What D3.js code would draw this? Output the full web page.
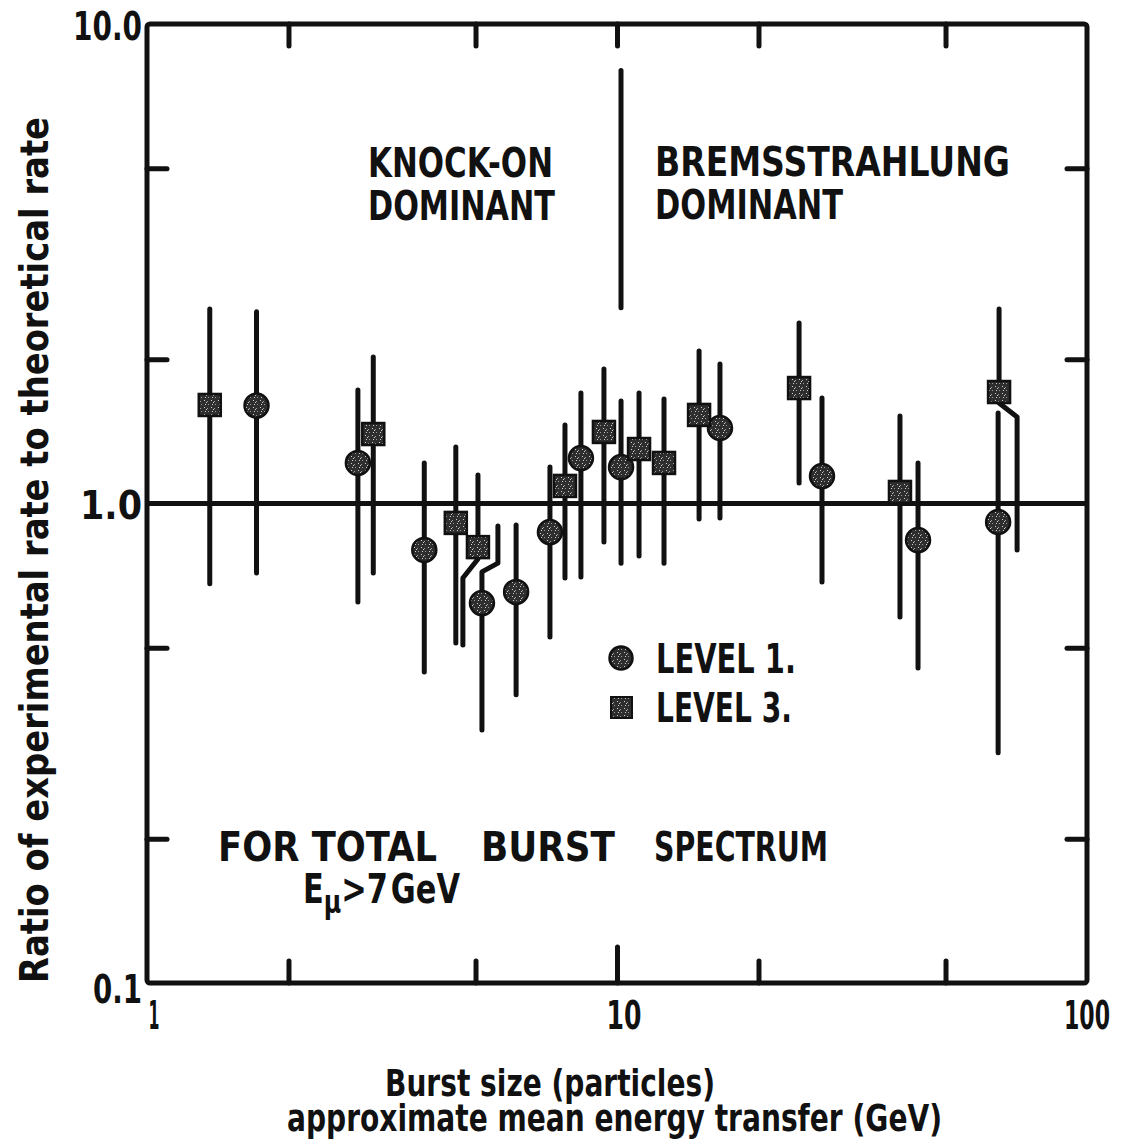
<!DOCTYPE html>
<html><head><meta charset="utf-8">
<script src="https://cdn.jsdelivr.net/npm/d3@7"></script>
<style>
body{margin:0;background:#fff}
svg{display:block}
text{font-family:"DejaVu Sans","Liberation Sans",sans-serif;font-weight:bold;fill:#111}
</style>
</head><body>
<svg id="c" width="1123" height="1142"></svg>
<script>
// ---- data ----
const level1X  = [1.71, 2.81, 3.89, 5.16, 6.10, 7.20, 8.38, 10.2, 16.56, 27.3, 43.7, 64.7];
const level1Y  = [1.60, 1.215, 0.80, 0.62, 0.654, 0.872, 1.244, 1.191, 1.437, 1.141, 0.839, 0.915];
const level1Hi = [2.51, 1.725, 1.215, 0.898, 0.902, 1.191, 1.70, 1.636, 1.954, 1.66, 1.215, 1.544];
const level1Lo = [0.716, 0.623, 0.445, 0.337, 0.399, 0.527, 0.703, 0.751, 0.933, 0.686, 0.454, 0.302];

const level3X  = [1.36, 3.03, 4.54, 5.06, 7.75, 9.38, 11.14, 12.59, 14.95, 24.4, 40.0, 65.0];
const level3Y  = [1.605, 1.396, 0.911, 0.811, 1.088, 1.41, 1.299, 1.215, 1.53, 1.741, 1.057, 1.708];
const level3Hi = [2.545, 2.02, 1.311, 1.147, 1.458, 1.908, 1.70, 1.652, 2.08, 2.38, 1.522, 2.545];
const level3Lo = [0.68, 0.716, 0.512, 0.507, 0.699, 0.831, 0.777, 0.751, 0.928, 1.104, 0.580, 0.80];

// error bars drawn displaced sideways (series, index, side, displaced x, bend start y, bend end y)
const kinkSeries = ["level3", "level1", "level3"];
const kinkIndex  = [3, 3, 11];
const kinkSide   = ["lo", "hi", "lo"];
const kinkX      = [4.70, 5.58, 71.0];
const kinkFrom   = [0.766, 0.72, 1.62];
const kinkTo     = [0.699, 0.751, 1.515];

const xTicks = [2, 5, 10, 20, 50];
const yTicks = [0.2, 0.5, 2, 5];
const xLabels = ["1", "10", "100"];
const yLabels = ["0.1", "1.0", "10.0"];
const dividerX = 10, dividerTop = 8.0, dividerBottom = 2.56;
const refLine = 1.0;

// ---- layout ----
const svg = d3.select("#c");
const L = 147, R = 1087, T = 24, B = 983;
const x = d3.scaleLog().domain([1, 100]).range([L, R]);
const y = d3.scaleLog().domain([0.1, 10]).range([B, T]);
const ink = "#111";

// speckled marker fill
const defs = svg.append("defs");
const pat = defs.append("pattern").attr("id", "speck").attr("patternUnits", "userSpaceOnUse")
  .attr("width", 7).attr("height", 7);
pat.append("rect").attr("width", 7).attr("height", 7).attr("fill", "#2e2e2e");
[[1,1],[4,2],[2,5],[5,5],[3,3]].forEach(([a,b],i) => pat.append("rect")
  .attr("x", a).attr("y", b).attr("width", 1).attr("height", 1).attr("fill", i%2 ? "#9a9a9a" : "#cfcfcf"));

// ---- axes ticks (inward) ----
const tk = g => g.selectAll(".tick line").attr("stroke", ink).attr("stroke-width", 5).attr("stroke-linecap", "round");
svg.append("g").attr("transform", `translate(0,${B})`)
  .call(d3.axisBottom(x).tickValues(xTicks).tickSize(-22).tickFormat(""))
  .call(g => g.select(".domain").remove()).call(tk)
  .call(g => g.selectAll(".tick line").filter(d => d === 10).attr("y2", -36));
svg.append("g").attr("transform", `translate(0,${T})`)
  .call(d3.axisTop(x).tickValues(xTicks).tickSize(-22).tickFormat(""))
  .call(g => g.select(".domain").remove()).call(tk);
svg.append("g").attr("transform", `translate(${L},0)`)
  .call(d3.axisLeft(y).tickValues(yTicks).tickSize(-20).tickFormat(""))
  .call(g => g.select(".domain").remove()).call(tk);
svg.append("g").attr("transform", `translate(${R},0)`)
  .call(d3.axisRight(y).tickValues(yTicks).tickSize(-20).tickFormat(""))
  .call(g => g.select(".domain").remove()).call(tk);

// frame
svg.append("rect").attr("x", L).attr("y", T).attr("width", R - L).attr("height", B - T)
  .attr("rx", 3).attr("fill", "none").attr("stroke", ink).attr("stroke-width", 5);

// tick labels
const xLabW = {"1": 11, "10": 35, "100": 46};
const xLabG = svg.append("g").attr("font-size", 39);
xLabG.selectAll("text").data(xLabels).join("text")
  .attr("x", (d, i) => x(+d) + (i === 0 ? 7 : (i === 1 ? 7 : 0))).attr("y", 1029)
  .attr("text-anchor", "middle").attr("textLength", d => xLabW[d])
  .attr("lengthAdjust", "spacingAndGlyphs").text(d => d);
const yLabG = svg.append("g").attr("font-size", 39);
yLabG.selectAll("text").data(yLabels).join("text")
  .attr("x", 142).attr("y", d => y(+d) + (+d === 0.1 ? 20 : (+d === 10 ? 16 : 15)))
  .attr("text-anchor", "end").attr("textLength", d => d === "10.0" ? 69 : (d === "1.0" ? 62 : 49))
  .attr("lengthAdjust", "spacingAndGlyphs").text(d => d);

// reference line at 1.0
svg.append("line").attr("x1", L).attr("x2", R).attr("y1", y(refLine)).attr("y2", y(refLine))
  .attr("stroke", ink).attr("stroke-width", 5);

// divider
svg.append("line").attr("x1", x(dividerX) + 4).attr("x2", x(dividerX) + 4)
  .attr("y1", y(dividerTop)).attr("y2", y(dividerBottom))
  .attr("stroke", ink).attr("stroke-width", 5).attr("stroke-linecap", "round");

// ---- points ----
const series = {
  level1: level1X.map((v, i) => ({x: v, y: level1Y[i], lo: level1Lo[i], hi: level1Hi[i], s: "level1", i})),
  level3: level3X.map((v, i) => ({x: v, y: level3Y[i], lo: level3Lo[i], hi: level3Hi[i], s: "level3", i}))
};
const kinks = kinkSeries.map((s, k) => ({s, i: kinkIndex[k], side: kinkSide[k], kx: kinkX[k], from: kinkFrom[k], to: kinkTo[k]}));
const all = series.level1.concat(series.level3);

const barG = svg.append("g").attr("fill", "none").attr("stroke", ink).attr("stroke-width", 5)
  .attr("stroke-linecap", "round").attr("stroke-linejoin", "round");
all.forEach(p => {
  const k = kinks.find(q => q.s === p.s && q.i === p.i);
  ["lo", "hi"].forEach(side => {
    const end = p[side];
    if (k && k.side === side) {
      const pts = [[x(p.x), y(p.y)], [x(p.x), y(k.from)], [x(k.kx), y(k.to)], [x(k.kx), y(end)]];
      barG.append("path").attr("d", d3.line()(pts));
    } else {
      barG.append("line").attr("x1", x(p.x)).attr("x2", x(p.x)).attr("y1", y(p.y)).attr("y2", y(end));
    }
  });
});

const mk = svg.append("g");
mk.selectAll("circle").data(series.level1).join("circle")
  .attr("cx", d => x(d.x)).attr("cy", d => y(d.y)).attr("r", 12)
  .attr("fill", "url(#speck)").attr("stroke", ink).attr("stroke-width", 2.5);
mk.selectAll("rect").data(series.level3).join("rect")
  .attr("x", d => x(d.x) - 11).attr("y", d => y(d.y) - 11).attr("width", 22).attr("height", 22)
  .attr("fill", "url(#speck)").attr("stroke", ink).attr("stroke-width", 2.5);

// legend
const lg = svg.append("g");
lg.append("circle").attr("cx", 621).attr("cy", 658).attr("r", 11.5)
  .attr("fill", "url(#speck)").attr("stroke", ink).attr("stroke-width", 2.5);
lg.append("rect").attr("x", 611).attr("y", 697).attr("width", 21).attr("height", 21)
  .attr("fill", "url(#speck)").attr("stroke", ink).attr("stroke-width", 2);
lg.append("text").attr("x", 656).attr("y", 673).attr("font-size", 41)
  .attr("textLength", 140).attr("lengthAdjust", "spacingAndGlyphs").text("LEVEL 1.");
lg.append("text").attr("x", 656).attr("y", 722).attr("font-size", 41)
  .attr("textLength", 136).attr("lengthAdjust", "spacingAndGlyphs").text("LEVEL 3.");

// annotations
const ann = svg.append("g").attr("font-size", 41);
const addT = (g, t, px, py, w) => g.append("text").attr("x", px).attr("y", py)
  .attr("textLength", w).attr("lengthAdjust", "spacingAndGlyphs").text(t);
addT(ann, "KNOCK-ON", 368, 177, 185);
addT(ann, "DOMINANT", 368, 220, 187);
addT(ann, "BREMSSTRAHLUNG", 655, 176, 355);
addT(ann, "DOMINANT", 655, 219, 188);
addT(ann, "FOR TOTAL", 218, 861, 219);
addT(ann, "BURST", 481, 861, 134);
addT(ann, "SPECTRUM", 654, 861, 174);
const em = ann.append("text").attr("x", 303).attr("y", 903)
  .attr("textLength", 157).attr("lengthAdjust", "spacingAndGlyphs");
em.append("tspan").text("E");
em.append("tspan").attr("font-size", 32).attr("dy", 10).text("μ");
em.append("tspan").attr("dy", -10).text(">7");
em.append("tspan").attr("dx", 4).text("GeV");

// axis titles
const xt = svg.append("g").attr("font-size", 38);
addT(xt, "Burst  size  (particles)", 385, 1096, 330);
addT(xt, "approximate mean energy transfer (GeV)", 287, 1131, 655);
svg.append("text").attr("transform", "translate(48,550) rotate(-90)").attr("text-anchor", "middle")
  .attr("font-size", 39).attr("textLength", 866).attr("lengthAdjust", "spacingAndGlyphs")
  .text("Ratio of experimental rate to theoretical rate");
</script>
</body></html>
